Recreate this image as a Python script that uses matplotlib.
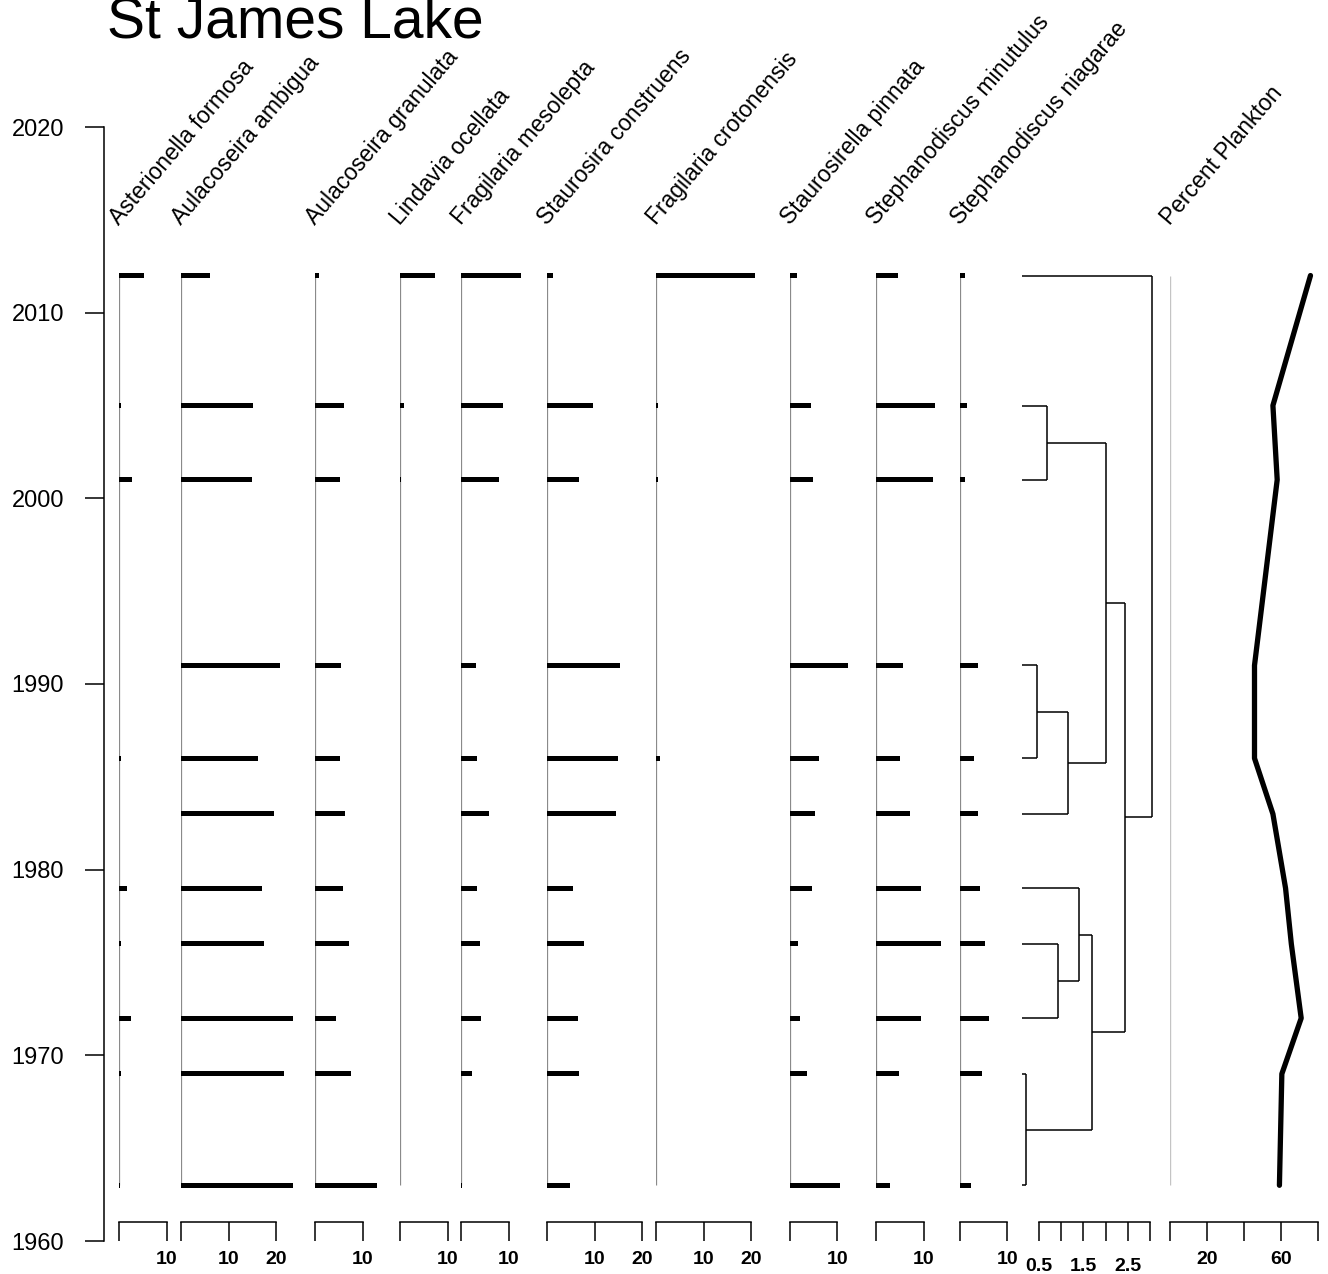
import matplotlib
matplotlib.use("Agg")
import matplotlib.pyplot as plt
import matplotlib.transforms as mtransforms

plt.rcParams['font.family'] = ['Liberation Sans', 'DejaVu Sans']

# ---------------------------------------------------------------- data
years = [2012, 2005, 2001, 1991, 1986, 1983, 1979, 1976, 1972, 1969, 1963]

taxa = ["Asterionella formosa", "Aulacoseira ambigua", "Aulacoseira granulata",
        "Lindavia ocellata", "Fragilaria mesolepta", "Staurosira construens",
        "Fragilaria crotonensis", "Staurosirella pinnata",
        "Stephanodiscus minutulus", "Stephanodiscus niagarae"]

asterionella_formosa = [5.3, 0.4, 2.7, 0.0, 0.4, 0.0, 1.7, 0.4, 2.5, 0.4, 0.3]
aulacoseira_ambigua = [6.0, 15.1, 14.9, 20.8, 16.2, 19.6, 17.1, 17.5, 23.6, 21.7, 23.6]
aulacoseira_granulata = [0.85, 6.1, 5.3, 5.5, 5.3, 6.3, 5.9, 7.2, 4.4, 7.6, 13.1]
lindavia_ocellata = [7.4, 0.85, 0.2, 0, 0, 0, 0, 0, 0, 0, 0]
fragilaria_mesolepta = [12.6, 8.8, 8.0, 3.2, 3.4, 5.9, 3.4, 4.0, 4.2, 2.3, 0.3]
staurosira_construens = [1.3, 9.7, 6.7, 15.4, 14.9, 14.5, 5.5, 7.8, 6.5, 6.7, 4.8]
fragilaria_crotonensis = [20.8, 0.4, 0.4, 0, 0.8, 0, 0, 0, 0, 0, 0]
staurosirella_pinnata = [1.5, 4.4, 4.8, 12.2, 6.1, 5.3, 4.6, 1.7, 2.1, 3.6, 10.5]
stephanodiscus_minutulus = [4.6, 12.4, 12.0, 5.7, 5.1, 7.2, 9.5, 13.7, 9.5, 4.8, 2.9]
stephanodiscus_niagarae = [1.1, 1.5, 1.1, 3.8, 2.9, 3.8, 4.2, 5.3, 6.1, 4.6, 2.3]

taxa_values = [asterionella_formosa, aulacoseira_ambigua, aulacoseira_granulata,
               lindavia_ocellata, fragilaria_mesolepta, staurosira_construens,
               fragilaria_crotonensis, staurosirella_pinnata,
               stephanodiscus_minutulus, stephanodiscus_niagarae]
taxa_scale_max = [10, 20, 10, 10, 10, 20, 20, 10, 10, 10]

percent_plankton = [75.8, 55.6, 57.9, 45.7, 45.7, 55.6, 62.4, 65.5, 70.8, 60.4, 59.1]

# CONISS merges: (child a, child b, total dispersion); samples are 0..10,
# merged clusters are numbered from 11 upwards in merge order
coniss_merges = [(9, 10, 0.21), (3, 4, 0.45), (1, 2, 0.69), (7, 8, 0.935),
                 (5, 12, 1.16), (6, 14, 1.40), (16, 11, 1.70), (13, 15, 2.02),
                 (18, 17, 2.44), (0, 19, 3.04)]
coniss_leaf = 0.12
coniss_ticks = [0.5, 1.0, 1.5, 2.0, 2.5, 3.0]
coniss_ticklabels = ["0.5", "", "1.5", "", "2.5", ""]

plankton_ticks = [0, 20, 40, 60, 80]
plankton_ticklabels = ["", "20", "", "60", ""]

year_ticks = [1960, 1970, 1980, 1990, 2000, 2010, 2020]

# ---------------------------------------------------------------- layout
W, H = 1328, 1274
fig = plt.figure(figsize=(W / 100, H / 100), dpi=100)

Y_TOP_PX, Y_BOT_PX = 127, 1241          # 2020 and 1960
PX_PER_YEAR = (Y_BOT_PX - Y_TOP_PX) / 60.0
PANEL_BOT_PX = 1222
panel_ymin = 2020 - (PANEL_BOT_PX - Y_TOP_PX) / PX_PER_YEAR

TAXA_PX_PER_UNIT = 4.75
taxa_left_px = [119, 181, 315, 400, 461, 547, 656, 790, 876, 960]
CONISS_LEFT_PX, CONISS_PX_PER_UNIT = 1016.8, 44.4
PLANKTON_LEFT_PX, PLANKTON_PX_PER_UNIT = 1169.5, 1.86

LABEL_Y = 1 - 226 / H
LABEL_ANGLE = 49.5
TICK_LEN = 13.7
BAR_H = 5.0 / PX_PER_YEAR


def axes_px(left, top, width, bottom):
    return fig.add_axes([left / W, 1 - bottom / H, width / W, (bottom - top) / H])


def style_panel(ax, xmax, ticks, labels, pad=7.0):
    ax.set_xlim(0, xmax)
    ax.set_ylim(panel_ymin, 2020)
    for s in ("top", "right", "left"):
        ax.spines[s].set_visible(False)
    ax.spines["bottom"].set_linewidth(1.1)
    ax.spines["bottom"].set_bounds(ticks[0], ticks[-1])
    ax.set_xticks(ticks)
    ax.set_xticklabels(labels, fontweight="bold")
    ax.tick_params(axis="x", direction="out", length=TICK_LEN, width=1.1,
                   pad=pad, labelsize=14)
    ax.set_yticks([])
    ax.patch.set_visible(False)


def panel_label(ax, text):
    tr = mtransforms.blended_transform_factory(ax.transData, fig.transFigure)
    ax.text(0, LABEL_Y, text, transform=tr, rotation=LABEL_ANGLE,
            rotation_mode="anchor", ha="left", va="baseline", fontsize=16.5,
            clip_on=False)


# year axis
ax_year = axes_px(104, Y_TOP_PX, 2, Y_BOT_PX)
ax_year.set_ylim(1960, 2020)
for s in ("top", "right", "bottom"):
    ax_year.spines[s].set_visible(False)
ax_year.spines["left"].set_linewidth(1.1)
ax_year.set_xticks([])
ax_year.set_yticks(year_ticks)
ax_year.tick_params(axis="y", direction="out", length=TICK_LEN, width=1.1,
                    pad=15, labelsize=17)
ax_year.patch.set_visible(False)

# taxa panels
for name, vals, xmax, left in zip(taxa, taxa_values, taxa_scale_max, taxa_left_px):
    ax = axes_px(left, Y_TOP_PX, xmax * TAXA_PX_PER_UNIT, PANEL_BOT_PX)
    ticks = list(range(0, xmax + 1, 10))
    style_panel(ax, xmax, ticks, [""] + [str(t) for t in ticks[1:]])
    ax.vlines(0, min(years), max(years), color="#8a8a8a", lw=0.9, zorder=1)
    ax.barh(years, vals, height=BAR_H, left=0, color="black", lw=0,
            clip_on=False, zorder=2)
    panel_label(ax, name)

# CONISS dendrogram
cmax = 3.1
ax_c = axes_px(CONISS_LEFT_PX, Y_TOP_PX, cmax * CONISS_PX_PER_UNIT, PANEL_BOT_PX)
style_panel(ax_c, cmax, coniss_ticks, coniss_ticklabels, pad=12.5)
pos = {i: y for i, y in enumerate(years)}
hgt = {i: coniss_leaf for i in range(len(years))}
for k, (a, b, h) in enumerate(coniss_merges):
    node = len(years) + k
    for c in (a, b):
        ax_c.plot([hgt[c], h], [pos[c], pos[c]], color="black", lw=1.1,
                  solid_capstyle="butt", clip_on=False)
    ax_c.plot([h, h], [pos[a], pos[b]], color="black", lw=1.1,
              solid_capstyle="butt", clip_on=False)
    pos[node] = (pos[a] + pos[b]) / 2.0
    hgt[node] = h

# percent plankton
ax_p = axes_px(PLANKTON_LEFT_PX, Y_TOP_PX, 80 * PLANKTON_PX_PER_UNIT, PANEL_BOT_PX)
style_panel(ax_p, 80, plankton_ticks, plankton_ticklabels)
ax_p.vlines(0, min(years), max(years), color="#c4c4c4", lw=1.0, zorder=1)
ax_p.plot(percent_plankton, years, color="black", lw=3.8,
          solid_joinstyle="round", solid_capstyle="round", clip_on=False)
panel_label(ax_p, "Percent Plankton")

# title
fig.text(107 / W, 1 - 38 / H, "St James Lake", fontsize=41, ha="left",
         va="baseline")

fig.savefig("out.png", dpi=100)
